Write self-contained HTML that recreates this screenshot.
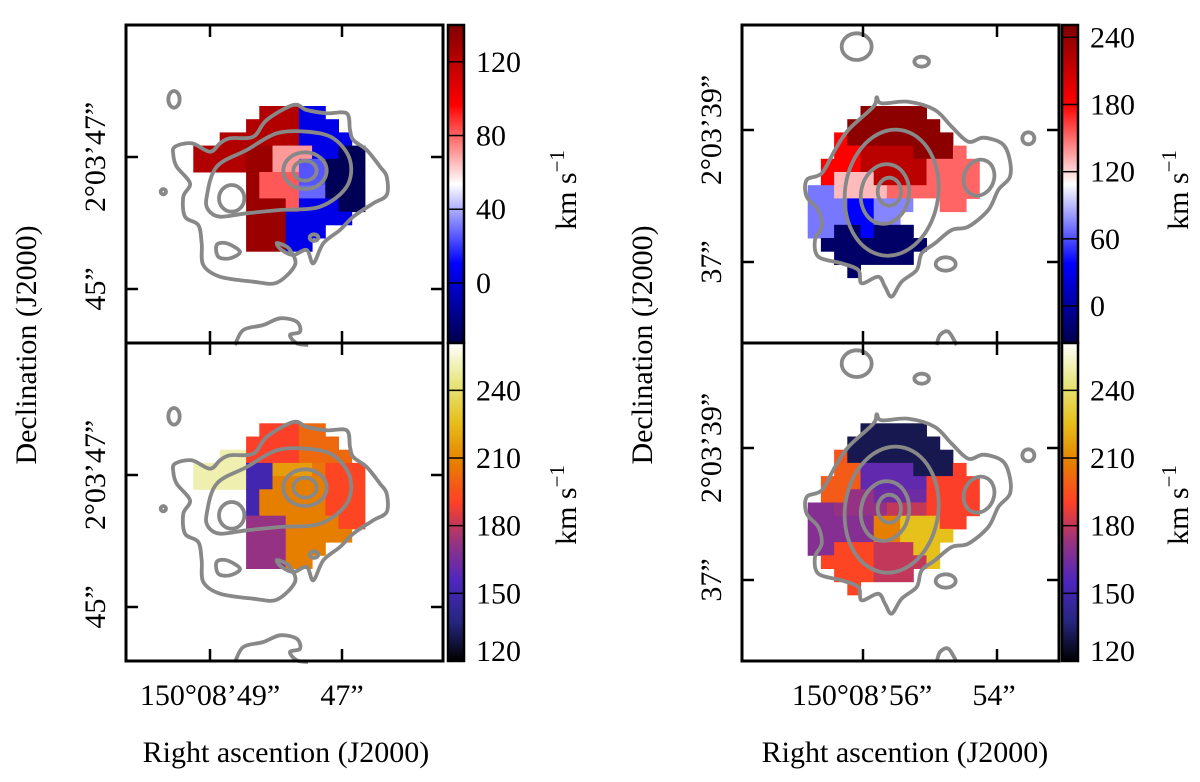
<!DOCTYPE html>
<html><head><meta charset="utf-8"><style>
html,body{margin:0;padding:0;background:#fff;}
svg{display:block;}
text{font-family:"Liberation Serif",serif;fill:#000;}
</style></head><body>
<svg id="fig" width="1200" height="782" viewBox="0 0 1200 782" xmlns="http://www.w3.org/2000/svg">
<defs>
<linearGradient id="gSeis" x1="0" y1="1" x2="0" y2="0">
<stop offset="0" stop-color="#00004c"/><stop offset="0.25" stop-color="#0000ff"/><stop offset="0.5" stop-color="#ffffff"/><stop offset="0.75" stop-color="#ff0000"/><stop offset="1" stop-color="#800000"/>
</linearGradient>
<linearGradient id="gCmr" x1="0" y1="1" x2="0" y2="0">
<stop offset="0" stop-color="#000000"/><stop offset="0.125" stop-color="#262680"/><stop offset="0.25" stop-color="#4d26bf"/><stop offset="0.375" stop-color="#993380"/><stop offset="0.5" stop-color="#ff4026"/><stop offset="0.625" stop-color="#e68000"/><stop offset="0.75" stop-color="#e6bf1a"/><stop offset="0.875" stop-color="#e6e680"/><stop offset="1" stop-color="#ffffff"/>
</linearGradient>
</defs>
<g id="cells"></g>
<g id="contours"></g>
<g id="frames"></g>
<g id="labels">
<text x="0" y="0" font-size="30" text-anchor="middle" transform="translate(36,345) rotate(-90)">Declination (J2000)</text>
<text x="0" y="0" font-size="30" text-anchor="middle" transform="translate(652,345) rotate(-90)">Declination (J2000)</text>
<text x="286" y="762" font-size="30" text-anchor="middle">Right ascention (J2000)</text>
<text x="905" y="762" font-size="30" text-anchor="middle">Right ascention (J2000)</text>
<text x="210" y="705" font-size="30" text-anchor="middle">150°08’49”</text>
<text x="342" y="705" font-size="30" text-anchor="middle">47”</text>
<text x="862" y="705" font-size="30" text-anchor="middle">150°08’56”</text>
<text x="994" y="705" font-size="30" text-anchor="middle">54”</text>
<text font-size="30" text-anchor="middle" transform="translate(105,157) rotate(-90)">2°03’47”</text>
<text font-size="30" text-anchor="middle" transform="translate(105,289) rotate(-90)">45”</text>
<text font-size="30" text-anchor="middle" transform="translate(105,475) rotate(-90)">2°03’47”</text>
<text font-size="30" text-anchor="middle" transform="translate(105,607) rotate(-90)">45”</text>
<text font-size="30" text-anchor="middle" transform="translate(721,130) rotate(-90)">2°03’39”</text>
<text font-size="30" text-anchor="middle" transform="translate(721,262) rotate(-90)">37”</text>
<text font-size="30" text-anchor="middle" transform="translate(721,448) rotate(-90)">2°03’39”</text>
<text font-size="30" text-anchor="middle" transform="translate(721,580) rotate(-90)">37”</text>
<text font-size="30" text-anchor="middle" transform="translate(576,190) rotate(-90)">km s<tspan font-size="21" dy="-12">−1</tspan></text>
<text font-size="30" text-anchor="middle" transform="translate(576,505) rotate(-90)">km s<tspan font-size="21" dy="-12">−1</tspan></text>
<text font-size="30" text-anchor="middle" transform="translate(1188,190) rotate(-90)">km s<tspan font-size="21" dy="-12">−1</tspan></text>
<text font-size="30" text-anchor="middle" transform="translate(1188,505) rotate(-90)">km s<tspan font-size="21" dy="-12">−1</tspan></text>
</g>
</svg>
<script>
// ---- data: runs of [row, colStart, colEnd, value(km/s)] ----
const mapTopLeft = [
[0,5,8,123],[0,8,10,5],
[1,4,8,123],[1,8,11,5],
[2,2,8,123],[2,8,12,5],
[3,0,4,123],[3,4,6,131],[3,6,9,71],[3,9,11,5],[3,11,13,-30],
[4,0,4,123],[4,4,6,131],[4,6,8,71],[4,8,10,25],[4,10,13,-30],
[5,4,5,131],[5,5,8,82],[5,8,10,25],[5,10,13,-30],
[6,4,5,131],[6,5,8,82],[6,8,10,28],[6,10,13,-30],
[7,4,7,131],[7,7,8,82],[7,8,11,5],[7,11,13,-30],
[8,4,7,131],[8,7,12,5],
[9,4,7,131],[9,7,10,5],
[10,4,7,131],[10,7,9,5]
];
const mapTopRight = [
[0,4,9,244],
[1,3,10,244],
[2,2,3,180],[2,3,11,244],
[3,2,4,180],[3,4,8,218],[3,8,11,244],[3,11,12,152],
[4,1,4,180],[4,4,9,218],[4,9,13,152],
[5,1,2,180],[5,2,5,128],[5,5,9,218],[5,9,13,152],
[6,0,2,71],[6,2,6,128],[6,6,13,152],
[7,0,3,71],[7,3,5,38],[7,5,8,75],[7,8,10,109],[7,10,12,152],
[8,0,3,71],[8,3,5,38],[8,5,7,75],
[9,0,2,71],[9,2,4,-23],[9,4,5,38],[9,5,8,-23],
[10,1,9,-23],
[11,2,8,-23],
[12,3,4,-23]
];
const mapBottomLeft = [
[0,5,8,190],[0,8,10,202],
[1,4,8,190],[1,8,11,202],
[2,2,4,250],[2,4,8,190],[2,8,12,202],
[3,0,4,250],[3,4,6,151],[3,6,9,216],[3,9,10,205],[3,10,13,192],
[4,0,4,250],[4,4,6,151],[4,6,10,208],[4,10,13,192],
[5,4,5,151],[5,5,10,208],[5,10,13,192],
[6,4,5,151],[6,5,10,208],[6,10,13,192],
[7,4,7,172],[7,7,11,208],[7,11,13,192],
[8,4,7,172],[8,7,12,208],
[9,4,7,172],[9,7,10,208],
[10,4,7,172],[10,7,9,208]
];
const mapBottomRight = [
[0,4,9,131],
[1,3,10,131],
[2,2,3,196],[2,3,11,131],
[3,2,4,198],[3,4,8,160],[3,8,11,131],[3,11,12,190],
[4,1,4,198],[4,4,9,160],[4,9,13,190],
[5,1,3,198],[5,3,5,172],[5,5,9,163],[5,9,13,190],
[6,0,2,168],[6,2,6,172],[6,6,9,180],[6,9,13,190],
[7,0,5,168],[7,5,7,208],[7,7,10,226],[7,10,12,190],
[8,0,5,168],[8,5,7,208],[8,7,11,226],
[9,0,2,168],[9,2,5,192],[9,5,8,180],[9,8,10,226],
[10,1,5,192],[10,5,9,180],[10,9,10,226],
[11,2,5,192],[11,5,8,180],
[12,3,4,192]
];
const ticksTopLeft = [120,80,40,0];
const ticksTopRight = [240,180,120,60,0];
const ticksBottom = [240,210,180,150,120];
const rangeTopLeft = [-32.6,140];
const rangeTopRight = [-33,251];
const rangeBottom = [120,261];

const NS='http://www.w3.org/2000/svg';
const seis=[[0,[0,0,.3]],[.25,[0,0,1]],[.5,[1,1,1]],[.75,[1,0,0]],[1,[.5,0,0]]];
const cmr=[[0,[0,0,0]],[.125,[.15,.15,.5]],[.25,[.3,.15,.75]],[.375,[.6,.2,.5]],[.5,[1,.25,.15]],[.625,[.9,.5,0]],[.75,[.9,.75,.1]],[.875,[.9,.9,.5]],[1,[1,1,1]]];
function cmap(stops,f){f=Math.max(0,Math.min(1,f));for(let i=1;i<stops.length;i++){if(f<=stops[i][0]){const a=stops[i-1],b=stops[i];const t=(f-a[0])/(b[0]-a[0]);const c=a[1].map((v,k)=>Math.round(255*(v+(b[1][k]-v)*t)));return 'rgb('+c.join(',')+')';}}return 'rgb(255,255,255)';}
function el(tag,attrs,parent){const e=document.createElementNS(NS,tag);for(const k in attrs)e.setAttribute(k,attrs[k]);parent.appendChild(e);return e;}

const STEP=13.2;
const panels=[
 {data:mapTopLeft,ox:193.3,oy:106,stops:seis,range:rangeTopLeft,ticks:ticksTopLeft,x:126,y:25,cb:448,name:'top-left'},
 {data:mapTopRight,ox:807.7,oy:106,stops:seis,range:rangeTopRight,ticks:ticksTopRight,x:742,y:25,cb:1062,name:'top-right'},
 {data:mapBottomLeft,ox:193.3,oy:423.3,stops:cmr,range:rangeBottom,ticks:ticksBottom,x:126,y:343,cb:448,name:'bottom-left'},
 {data:mapBottomRight,ox:807.7,oy:423.3,stops:cmr,range:rangeBottom,ticks:ticksBottom,x:742,y:343,cb:1062,name:'bottom-right'}
];
const PW=317,PH=318;
const gC=document.getElementById('cells'),gF=document.getElementById('frames'),gK=document.getElementById('contours');
panels.forEach(p=>{
 const xs=c=>p.ox+c*STEP, ys=r=>p.oy+r*STEP;
 const vf=v=>(v-p.range[0])/(p.range[1]-p.range[0]);
 p.data.forEach(d=>{
  const r=el('rect',{x:xs(d[1]).toFixed(2),y:ys(d[0]).toFixed(2),width:(xs(d[2])-xs(d[1])+0.5).toFixed(2),height:(STEP+0.5).toFixed(2),fill:cmap(p.stops,vf(d[3]))},gC);
  
  
 });
 const fr=el('rect',{x:p.x,y:p.y,width:PW,height:PH,fill:'none',stroke:'#000','stroke-width':3},gF);
 
 
 const cbTop=p.y,cbH=PH;
 const cy=v=>cbTop+cbH-(v-p.range[0])/(p.range[1]-p.range[0])*cbH;
 const cb=el('rect',{x:p.cb,y:cbTop,width:16,height:cbH,fill:p.stops===seis?'url(#gSeis)':'url(#gCmr)',stroke:'#000','stroke-width':2.5},gF);
 
 
 p.ticks.forEach(t=>{
  const y=cy(t);
  if(y>cbTop+3&&y<cbTop+cbH-3){const ln=el('line',{x1:p.cb,x2:p.cb+16,y1:y,y2:y,stroke:'#000','stroke-width':1.5},gF);
  
  }
  const tx=el('text',{x:p.cb+28,y:Math.min(y,cbTop+cbH-10)+10,'font-size':30},gF);
  tx.textContent=t;
  
  
 });
});
const xt={l:[210,342],r:[863,997]}, yt={tl:[157,289],bl:[475,607],tr:[130,262],br:[448,580]};
function tk(x1,y1,x2,y2){const l=el('line',{x1,y1,x2,y2,stroke:'#000','stroke-width':2.5},gF);}
[[126,25,xt.l,yt.tl],[126,343,xt.l,yt.bl],[742,25,xt.r,yt.tr],[742,343,xt.r,yt.br]].forEach(([x0,y0,xx,yy])=>{
 xx.forEach(x=>{tk(x,y0,x,y0+12);tk(x,y0+PH,x,y0+PH-12);});
 yy.forEach(y=>{tk(x0,y,x0+12,y);tk(x0+PW,y,x0+PW-12,y);});
});
function smooth(pts,closed){let n=pts.length;let d='M'+pts[0][0].toFixed(1)+','+pts[0][1].toFixed(1);const P=i=>closed?pts[(i+n)%n]:pts[Math.max(0,Math.min(n-1,i))];const m=closed?n:n-1;for(let i=0;i<m;i++){const p0=P(i-1),p1=P(i),p2=P(i+1),p3=P(i+2);const c1=[p1[0]+(p2[0]-p0[0])/6,p1[1]+(p2[1]-p0[1])/6],c2=[p2[0]-(p3[0]-p1[0])/6,p2[1]-(p3[1]-p1[1])/6];d+='C'+c1.map(v=>v.toFixed(1))+' '+c2.map(v=>v.toFixed(1))+' '+p2.map(v=>v.toFixed(1));}return d+(closed?'Z':'');}
const SW=3.8;
function ell(cx,cy,rx,ry,ox,oy,rot){const e=el('ellipse',{cx:ox+cx/3,cy:oy+cy/3,rx:rx/3,ry:ry/3,fill:'none',stroke:'#888','stroke-width':SW,transform:rot?`rotate(${rot} ${ox+cx/3} ${oy+cy/3})`:''},gK);}
function poly(pts,ox,oy,closed){const q=pts.map(p=>[ox+p[0]/3,oy+p[1]/3]);const e=el('path',{d:smooth(q,closed),fill:'none',stroke:'#888','stroke-width':SW,'stroke-linejoin':'round'},gK);}
const leftOuter=[[165,410],[215,400],[270,425],[300,400],[330,385],[400,380],[440,330],[520,285],[560,300],[620,310],[680,310],[690,360],[700,390],[740,420],[780,470],[800,500],[800,555],[760,580],[700,620],[660,660],[610,700],[580,760],[560,720],[520,735],[485,720],[470,700],[490,705],[510,720],[525,765],[470,818],[400,815],[300,800],[250,765],[245,700],[235,645],[195,620],[190,560],[210,520],[170,470],[160,435]];
const leftMid=[[260,560],[290,470],[380,420],[470,370],[560,365],[640,385],[690,450],[680,530],[600,590],[480,600],[380,610],[300,620],[265,600]];
const rightOuter=[[215,510],[260,490],[300,420],[340,360],[415,290],[425,262],[440,280],[520,275],[600,300],[650,350],[700,395],[745,383],[800,400],[822,440],[825,500],[790,540],[760,600],[700,650],[650,660],[600,700],[560,730],[545,780],[500,815],[470,860],[450,830],[430,800],[380,820],[370,780],[320,760],[250,740],[240,690],[260,650],[250,600],[215,560]];
[[120,10],[120,327]].forEach(([ox,oy])=>{
 poly(leftOuter,ox,oy,true);
 poly(leftMid,ox,oy,true);
 ell(555,482,65,55,ox,oy);ell(555,482,35,30,ox,oy);
 ell(335,565,38,40,ox,oy);
 ell(162,268,17,25,ox,oy);ell(130,545,8,8,ox,oy);ell(582,683,13,10,ox,oy);
 poly([[290,705],[320,700],[360,725],[330,745],[295,740]],ox,oy,true);
 poly([[345,1005],[370,960],[430,945],[480,925],[530,935],[540,965],[510,975],[530,1000],[565,1005]],ox,oy,false);
});
[[735,10],[735,327]].forEach(([ox,oy])=>{
 poly(rightOuter,ox,oy,true);
 ell(470,548,140,190,ox,oy,8);ell(450,552,72,90,ox,oy,10);ell(463,545,35,42,ox,oy);
 ell(365,110,45,40,ox,oy);ell(560,155,22,15,ox,oy);ell(880,385,18,18,ox,oy);
 ell(732,503,45,55,ox,oy,20);ell(632,762,30,20,ox,oy);
 poly([[605,1005],[615,975],[640,965],[665,1005]],ox,oy,false);
});
</script>
</body></html>
